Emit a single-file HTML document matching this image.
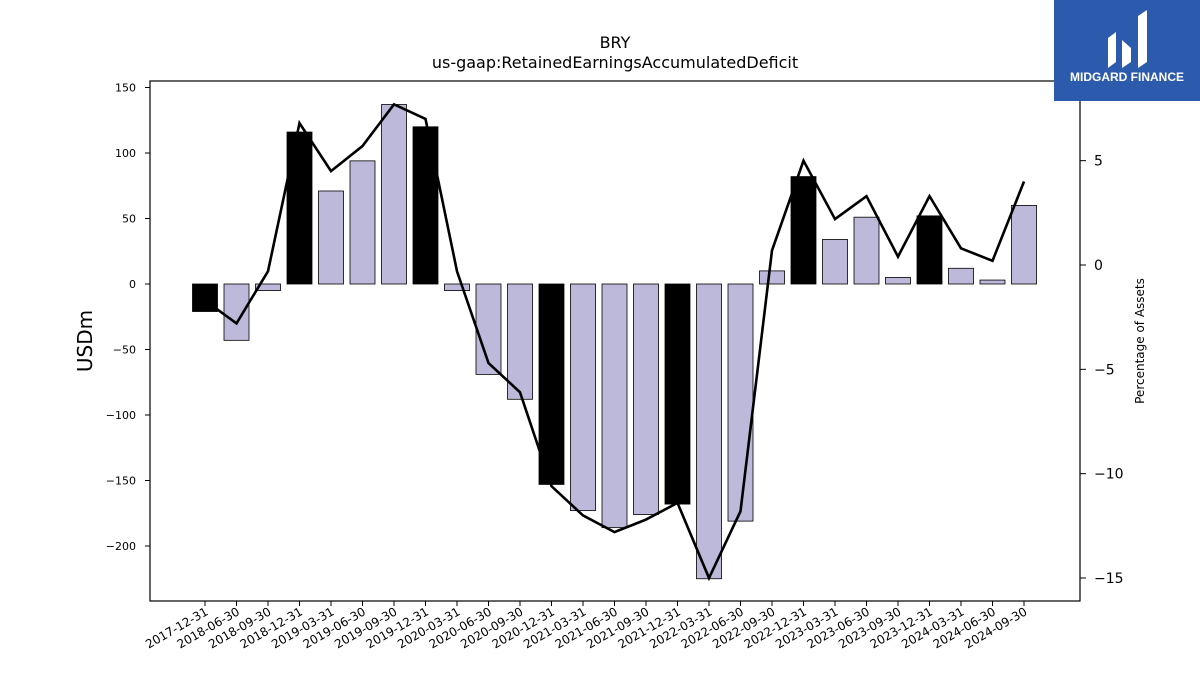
<!DOCTYPE html>
<html><head><meta charset="utf-8"><style>
body{margin:0;background:#fff;font-family:"Liberation Sans","DejaVu Sans",sans-serif}
</style></head><body>
<svg id="chart" width="1200" height="675" xmlns="http://www.w3.org/2000/svg" font-family="DejaVu Sans, Liberation Sans, sans-serif">
<rect width="1200" height="675" fill="#fff"/>
<text x="615" y="48" text-anchor="middle" font-size="16">BRY</text>
<text x="615" y="68" text-anchor="middle" font-size="16">us-gaap:RetainedEarningsAccumulatedDeficit</text>
<g id="plot"></g>
<rect x="150" y="81" width="930" height="520" fill="none" stroke="#000" stroke-width="1.2"/>
<text transform="translate(92,341) rotate(-90)" text-anchor="middle" font-size="20">USDm</text>
<text transform="translate(1144,341) rotate(-90)" text-anchor="middle" font-size="12">Percentage of Assets</text>
<g>
<rect x="1054" y="0" width="146" height="101" fill="#2c5aad"/>
<path d="M1108 68 L1108 38 L1116 32 L1116 62 Z M1122 68 L1122 40 L1131 48 L1131 62 Z M1138 68 L1138 16 L1147 10 L1147 62 Z" fill="#fff"/>
<text x="1127" y="81" text-anchor="middle" font-size="12" font-weight="bold" fill="#fff" font-family="Liberation Sans, sans-serif">MIDGARD FINANCE</text>
</g>
</svg>
<script>
const categories=["2017-12-31","2018-06-30","2018-09-30","2018-12-31","2019-03-31","2019-06-30","2019-09-30","2019-12-31","2020-03-31","2020-06-30","2020-09-30","2020-12-31","2021-03-31","2021-06-30","2021-09-30","2021-12-31","2022-03-31","2022-06-30","2022-09-30","2022-12-31","2023-03-31","2023-06-30","2023-09-30","2023-12-31","2024-03-31","2024-06-30","2024-09-30"];
const barValues=[-21,-43,-5,116,71,94,137,120,-5,-69,-88,-153,-173,-186,-176,-168,-225,-181,10,82,34,51,5,52,12,3,60];
const yearEnd=[1,0,0,1,0,0,0,1,0,0,0,1,0,0,0,1,0,0,0,1,0,0,0,1,0,0,0];
const pctValues=[-1.7,-2.8,-0.3,6.8,4.5,5.7,7.7,7.0,-0.3,-4.7,-6.1,-10.6,-12.0,-12.8,-12.2,-11.4,-15.0,-11.8,0.7,5.0,2.2,3.3,0.4,3.3,0.8,0.2,4.0];
const leftTicks=[150,100,50,0,-50,-100,-150,-200];
const rightTicks=[5,0,-5,-10,-15];
const NS="http://www.w3.org/2000/svg";
const g=document.getElementById('plot');
const x=i=>205+i*(1024-205)/(categories.length-1);
const yL=v=>284-v*(262/200);
const yR=v=>265-v*(313/15);
function mk(t,a){const e=document.createElementNS(NS,t);for(const k in a)e.setAttribute(k,a[k]);g.appendChild(e);return e;}
barValues.forEach((v,i)=>{
 const r=mk('rect',{x:x(i)-12.5,y:Math.min(yL(v),yL(0)),width:25,height:Math.abs(yL(v)-yL(0)),fill:yearEnd[i]?'#000':'#bdb9da',stroke:'#000','stroke-width':0.8});
 
 
 const t=mk('line',{x1:x(i),x2:x(i),y1:601,y2:606,stroke:'#000'});
 
 
 const l=mk('text',{transform:`translate(${x(i)+4},${614}) rotate(-30)`,'text-anchor':'end','font-size':12});
 l.textContent=categories[i];
 
 
});
const p=mk('polyline',{points:pctValues.map((v,i)=>x(i)+','+yR(v)).join(' '),fill:'none',stroke:'#000','stroke-width':2.6});


leftTicks.forEach(v=>{
 const t=mk('line',{x1:145,x2:150,y1:yL(v),y2:yL(v),stroke:'#000'});
 
 
 const l=mk('text',{x:136,y:yL(v)+4,'text-anchor':'end','font-size':11});
 l.textContent=v<0?'\u2212'+(-v):v;
 
 
});
rightTicks.forEach(v=>{
 const t=mk('line',{x1:1080,x2:1086,y1:yR(v),y2:yR(v),stroke:'#000'});
 
 
 const l=mk('text',{x:1094,y:yR(v)+5,'font-size':14});
 l.textContent=v<0?'\u2212'+(-v):v;
 
 
});
</script>
</body></html>
